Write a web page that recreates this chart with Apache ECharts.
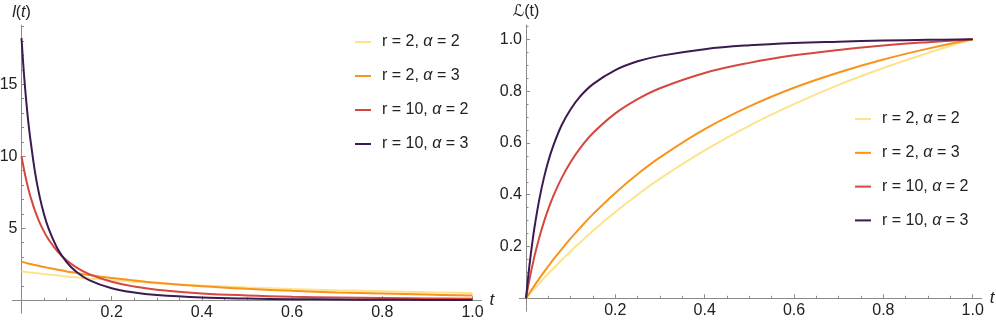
<!DOCTYPE html>
<html>
<head>
<meta charset="UTF-8">
<title>l(t) / L(t)</title>
<script src="https://cdn.jsdelivr.net/npm/echarts@6/dist/echarts.min.js"></script>
</head>
<body style="margin:0;background:#fff;">
<div id="chart" style="width:996px;height:324px;"></div>
<script>
// values
var tValues = [0, 0.005, 0.01, 0.015, 0.02, 0.03, 0.04, 0.05, 0.06, 0.08, 0.1, 0.12, 0.15, 0.2, 0.25, 0.3, 0.4, 0.5, 0.6, 0.7, 0.8, 0.9, 1.0];

var rValues = [2, 2, 10, 10];
var alphaValues = [2, 3, 2, 3];
var colors = ['#fde38d', '#f8931c', '#d5473f', '#3b1a52'];

// left panel: l(t)
var lYellow = [2.00, 1.98, 1.96, 1.94, 1.92, 1.89, 1.85, 1.81, 1.78, 1.71, 1.65, 1.59, 1.51, 1.39, 1.28, 1.18, 1.02, 0.89, 0.78, 0.69, 0.62, 0.55, 0.50];
var lOrange = [2.67, 2.63, 2.59, 2.55, 2.51, 2.44, 2.37, 2.30, 2.24, 2.12, 2.00, 1.90, 1.75, 1.54, 1.37, 1.21, 0.97, 0.79, 0.65, 0.54, 0.46, 0.39, 0.33];
var lRed = [10.0, 9.16, 8.42, 7.76, 7.18, 6.20, 5.41, 4.76, 4.22, 3.38, 2.77, 2.31, 1.81, 1.28, 0.95, 0.73, 0.47, 0.33, 0.24, 0.19, 0.15, 0.12, 0.10];
var lPurple = [18.2, 15.9, 14.0, 12.4, 11.1, 8.88, 7.23, 5.96, 4.98, 3.57, 2.65, 2.02, 1.40, 0.83, 0.53, 0.36, 0.19, 0.11, 0.07, 0.05, 0.03, 0.02, 0.02];

// right panel: L(t)
var LYellow = [0, 0.010, 0.020, 0.030, 0.039, 0.058, 0.077, 0.095, 0.113, 0.148, 0.182, 0.214, 0.261, 0.333, 0.400, 0.462, 0.571, 0.667, 0.750, 0.824, 0.889, 0.947, 1];
var LOrange = [0, 0.013, 0.026, 0.039, 0.052, 0.077, 0.101, 0.124, 0.147, 0.190, 0.231, 0.270, 0.325, 0.407, 0.480, 0.544, 0.653, 0.741, 0.813, 0.872, 0.922, 0.964, 1];
var LRed = [0, 0.048, 0.092, 0.132, 0.170, 0.236, 0.294, 0.345, 0.390, 0.465, 0.526, 0.577, 0.638, 0.714, 0.769, 0.811, 0.870, 0.909, 0.938, 0.959, 0.976, 0.989, 1];
var LPurple = [0, 0.085, 0.160, 0.226, 0.285, 0.384, 0.464, 0.530, 0.584, 0.669, 0.730, 0.777, 0.827, 0.881, 0.915, 0.936, 0.962, 0.977, 0.986, 0.991, 0.995, 0.998, 1];

// ticks
var xMajor = [0.2, 0.4, 0.6, 0.8, 1.0];
var xMinor = [0.05, 0.1, 0.15, 0.25, 0.3, 0.35, 0.45, 0.5, 0.55, 0.65, 0.7, 0.75, 0.85, 0.9, 0.95];
var lMajor = [5, 10, 15];
var lMinor = [1, 2, 3, 4, 6, 7, 8, 9, 11, 12, 13, 14, 16, 17, 18, 19];
var LMajor = [0.2, 0.4, 0.6, 0.8, 1.0];
var LMinor = [0.05, 0.1, 0.15, 0.25, 0.3, 0.35, 0.45, 0.5, 0.55, 0.65, 0.7, 0.75, 0.85, 0.9, 0.95, 1.05];

var leftSets = [lYellow, lOrange, lRed, lPurple];
var rightSets = [LYellow, LOrange, LRed, LPurple];

var FONT = 'Liberation Sans, DejaVu Sans, sans-serif';
var AXIS = '#8a8a8a';
var INK = '#222';

var names = rValues.map(function (r, i) { return 'r = ' + r + ', α = ' + alphaValues[i]; });

function pairs(ys) {
  return tValues.map(function (t, i) { return [t, ys[i]]; });
}

// panel boxes: pixel origin, pixel per unit, data ranges (the axis lines overshoot a little past 0)
var panels = [
  { x0: 21.5, y0: 300.2, sx: 451, sy: 14.4, xmin: -0.02, xmax: 1.02, ymin: -0.9, ymax: 19.1,
    major: lMajor, minor: lMinor, digits: 0, name: '{i|l}{n|(}{i|t}{n|)}' },
  { x0: 526, y0: 298.3, sx: 446.7, sy: 259, xmin: -0.015, xmax: 1.02, ymin: -0.05, ymax: 1.055,
    major: LMajor, minor: LMinor, digits: 1, name: '{n|ℒ(t)}' }
];

var grids = [], xAxis = [], yAxis = [];
panels.forEach(function (p, k) {
  // grid 2k: full range, carries the lines; grid 2k+1: starts at the origin, carries ticks and labels
  grids.push({ left: p.x0 + p.xmin * p.sx, top: p.y0 - p.ymax * p.sy,
    width: (p.xmax - p.xmin) * p.sx, height: (p.ymax - p.ymin) * p.sy, outerBoundsMode: 'none' });
  grids.push({ left: p.x0, top: p.y0 - p.ymax * p.sy,
    width: p.xmax * p.sx, height: p.ymax * p.sy, outerBoundsMode: 'none' });

  var lineOnly = { axisLine: { show: true, onZero: true, lineStyle: { color: AXIS, width: 1 } },
    axisTick: { show: false }, axisLabel: { show: false }, splitLine: { show: false } };
  xAxis.push(Object.assign({ type: 'value', gridIndex: 2 * k, min: p.xmin, max: p.xmax, position: 'bottom' }, lineOnly));
  yAxis.push(Object.assign({ type: 'value', gridIndex: 2 * k, min: p.ymin, max: p.ymax, position: 'left' }, lineOnly));

  xAxis.push({
    type: 'value', gridIndex: 2 * k + 1, min: 0, max: p.xmax, position: 'bottom',
    axisLine: { show: false, onZero: false },
    axisTick: { show: true, inside: true, length: 4, lineStyle: { color: AXIS }, customValues: xMajor },
    axisLabel: { show: true, customValues: xMajor, margin: 4, color: INK, fontSize: 16, fontFamily: FONT,
      formatter: function (v) { return v.toFixed(1); } },
    splitLine: { show: false },
    name: 't', nameLocation: 'end', nameGap: 6,
    nameTextStyle: { fontSize: 17, fontStyle: 'italic', color: INK, fontFamily: FONT, verticalAlign: 'middle' }
  });
  xAxis.push({
    type: 'value', gridIndex: 2 * k + 1, min: 0, max: p.xmax, position: 'bottom',
    axisLine: { show: false, onZero: false },
    axisTick: { show: true, inside: true, length: 2.5, lineStyle: { color: AXIS }, customValues: xMinor },
    axisLabel: { show: false }, splitLine: { show: false }
  });
  yAxis.push({
    type: 'value', gridIndex: 2 * k + 1, min: 0, max: p.ymax, position: 'left',
    axisLine: { show: false, onZero: false },
    axisTick: { show: true, inside: true, length: 4, lineStyle: { color: AXIS }, customValues: p.major },
    axisLabel: { show: true, customValues: p.major, margin: 4, color: INK, fontSize: 16, fontFamily: FONT,
      formatter: function (v) { return v.toFixed(p.digits); } },
    splitLine: { show: false },
    name: p.name, nameLocation: 'end', nameGap: 5,
    nameTextStyle: { fontSize: 16, color: INK, fontFamily: FONT,
      rich: { i: { fontSize: 16, fontStyle: 'italic', color: INK, fontFamily: FONT },
              n: { fontSize: 16, color: INK, fontFamily: FONT } } }
  });
  yAxis.push({
    type: 'value', gridIndex: 2 * k + 1, min: 0, max: p.ymax, position: 'left',
    axisLine: { show: false, onZero: false },
    axisTick: { show: true, inside: true, length: 2.5, lineStyle: { color: AXIS }, customValues: p.minor },
    axisLabel: { show: false }, splitLine: { show: false }
  });
});

function legend(left, top, gap) {
  return {
    data: names, left: left, top: top, orient: 'vertical', padding: 0,
    icon: 'rect', itemWidth: 16, itemHeight: 2, itemGap: gap,
    selectedMode: false,
    textStyle: { fontSize: 16, lineHeight: 16, color: INK, fontFamily: FONT,
      rich: { s: { width: 6 },
              n: { fontSize: 16, lineHeight: 16, color: INK, fontFamily: FONT },
              i: { fontSize: 16, lineHeight: 16, fontStyle: 'italic', color: INK, fontFamily: FONT } } },
    formatter: function (name) {
      var k = names.indexOf(name);
      return '{s|}{n|r = ' + rValues[k] + ', }{i|α}{n| = ' + alphaValues[k] + '}';
    }
  };
}

var series = [];
[leftSets, rightSets].forEach(function (sets, k) {
  names.forEach(function (nm, i) {
    series.push({
      name: nm, type: 'line', xAxisIndex: 3 * k, yAxisIndex: 3 * k,
      data: pairs(sets[i]), symbol: 'none', smooth: 0.4,
      lineStyle: { color: colors[i], width: 2 }, itemStyle: { color: colors[i] }, z: 3 + i
    });
  });
});

var chart = echarts.init(document.getElementById('chart'));
chart.setOption({
  animation: false,
  backgroundColor: '#fff',
  grid: grids,
  legend: [legend(355, 34, 18), legend(855, 111, 17.8)],
  xAxis: xAxis,
  yAxis: yAxis,
  series: series
});
</script>
</body>
</html>
